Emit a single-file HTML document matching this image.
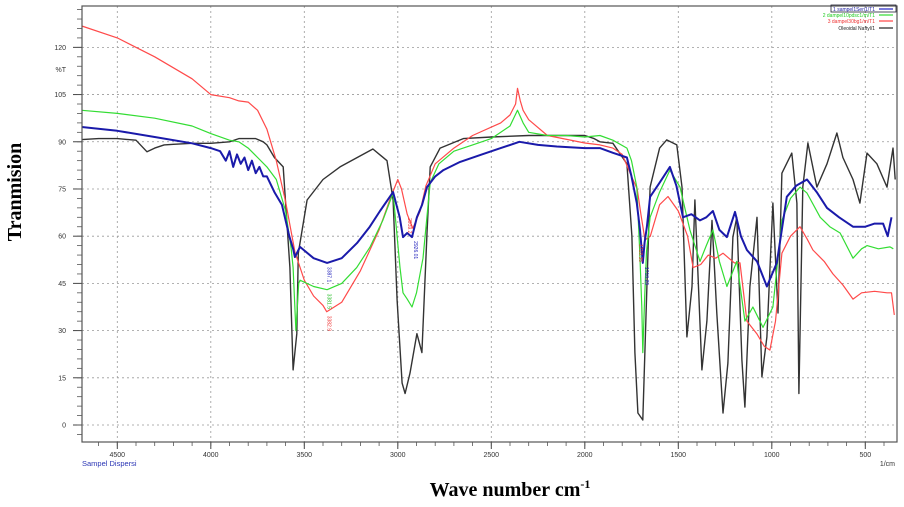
<!DOCTYPE html>
<html><head><meta charset="utf-8">
<style>
html,body{margin:0;padding:0;background:#fff;}
svg{display:block;}
text{font-family:"Liberation Sans",sans-serif;}
</style></head>
<body>
<svg id="chart" width="904" height="507" viewBox="0 0 904 507" xmlns="http://www.w3.org/2000/svg">
  <g id="grid"></g>
  <g id="series"></g>
  <rect x="82" y="6" width="815" height="436" fill="none" stroke="#555" stroke-width="1.2"/>
  <g id="axes"></g>
  <text x="66" y="72" font-size="7" text-anchor="end" fill="#333">%T</text>
  <text x="82" y="466" font-size="7.5" fill="#2a35b5">Sampel Dispersi</text>
  <text x="895" y="466" font-size="7" text-anchor="end" fill="#333">1/cm</text>
  <text transform="translate(21,192) rotate(-90)" font-weight="bold" font-size="20" text-anchor="middle" style="font-family:'Liberation Serif',serif">Tranmision</text>
  <text x="510" y="496" font-weight="bold" font-size="20" text-anchor="middle" style="font-family:'Liberation Serif',serif">Wave number cm<tspan font-size="12" dy="-8">-1</tspan></text>
  <g>
    <rect x="831" y="5" width="65" height="7" fill="none" stroke="#223" stroke-width="0.8"/>
    <text x="875" y="11" font-size="5" text-anchor="end" fill="#1a1aa0">1 sampel1Seri1/T1</text>
    <line x1="879" y1="9" x2="893" y2="9" stroke="#2020c0" stroke-width="1.2"/>
    <text x="875" y="17" font-size="5" text-anchor="end" fill="#2c2">2 dampel10pdsc1/m/T1</text>
    <line x1="879" y1="15" x2="893" y2="15" stroke="#3d3" stroke-width="1.2"/>
    <text x="875" y="23" font-size="5" text-anchor="end" fill="#e33">3 dampel30bg1/m/T1</text>
    <line x1="879" y1="21" x2="893" y2="21" stroke="#f44" stroke-width="1.2"/>
    <text x="875" y="30" font-size="5" text-anchor="end" fill="#222">Oleoidal Naftyl/1</text>
    <line x1="879" y1="28" x2="893" y2="28" stroke="#222" stroke-width="1.2"/>
  </g>
  <g id="peaks"></g>
</svg>
<script>
// Axis data
const xTickLabels = [4500, 4000, 3500, 3000, 2500, 2000, 1500, 1000, 500];
const yTickLabels = [0, 15, 30, 45, 60, 75, 90, 105, 120];

// Series data: wavenumber (1/cm) and %T
const blueWn = [4690,4500,4300,4100,4000,3950,3920,3900,3880,3860,3840,3820,3800,3780,3760,3740,3720,3700,3660,3620,3580,3560,3550,3523,3450,3378,3300,3218,3150,3095,3025,2990,2972,2950,2924,2898,2870,2844,2800,2756,2667,2550,2450,2350,2250,2150,2000,1919,1850,1775,1750,1722,1705,1690,1680,1668,1651,1600,1545,1510,1475,1430,1384,1350,1315,1280,1240,1197,1165,1133,1079,1026,973,920,870,812,760,705,640,566,500,450,405,380,360];
const blueT  = [94.7,93.5,91.5,89.5,88.0,87,84,87,82,86,83,85,81,84,80,82,79,79,74,70,60,56,53.4,56.6,53,51.5,53,57.8,63,68,74,66,59.7,61,59.7,66,70,75.6,79,81,83.6,86,88,90,89,88.5,88,88,86.5,85,79,70.5,62,51.5,58,63,72.5,77,82,76,66,67,65,66,68,62,59.7,67.7,60,55.6,52,44,51.5,72.5,76,78,74,69,66,63,63,64,64,60,66];
const greenWn = [4690,4500,4300,4100,4000,3900,3850,3800,3750,3700,3650,3600,3570,3560,3545,3530,3523,3450,3378,3300,3220,3148,3080,3025,2988,2972,2950,2924,2900,2865,2827,2780,2700,2600,2500,2400,2360,2330,2300,2200,2100,2000,1919,1850,1775,1750,1722,1706,1695,1690,1680,1670,1651,1600,1545,1491,1438,1384,1350,1315,1280,1240,1187,1160,1144,1101,1047,994,946,900,849,812,741,690,635,566,520,491,430,368,350];
const greenT  = [100,99,97.5,95,92.6,90.5,90,88,85,82,78,68,56,50,30,45,46,44,43,45,50,56.6,65,73.7,50,42,40,37.5,42,53,77,83,87,89,91,95,100,96,93,92,92,91.5,92,90.5,88,84,75.6,54.6,37.5,23,40,55,66,74,81,75.6,62,52,57,62,52,44,52,40,33,37.5,31,37.5,65,72,75.6,73.7,66,63,61,53,56,57,56,56.6,56];
const redWn = [4690,4500,4300,4100,4000,3900,3850,3800,3750,3700,3650,3600,3550,3500,3450,3400,3380,3300,3200,3100,3040,3000,2980,2950,2920,2880,2850,2800,2700,2600,2450,2400,2370,2360,2345,2330,2300,2200,2000,1919,1850,1800,1750,1720,1700,1678,1650,1600,1555,1500,1450,1421,1380,1340,1300,1261,1200,1170,1133,1080,1040,1010,980,946,900,849,810,780,720,673,620,566,520,450,384,360,345];
const redT  = [126.8,123,117,110,105,104,103,102.6,100,94,84,71,55,46,41,38,36,39,49,62,72,78,75,67,62.5,68,76,83,88,92,96,98.5,102,107,103,100,97,92,89.6,89,88,86,79,75,67,58.8,60,70,72.6,68,60,50,51,54,53,54.6,51.5,51.5,33,29,25,23.8,33,54.6,60,63,59,55.6,52,48,44.5,40,42,42.5,42,42,35];
const blackWn = [4690,4600,4500,4400,4341,4300,4250,4200,4100,4000,3900,3850,3800,3760,3720,3700,3660,3613,3577,3560,3540,3532,3485,3400,3309,3186,3133,3058,3025,3004,2977,2961,2935,2898,2871,2844,2827,2774,2650,2500,2300,2100,2000,1950,1919,1850,1775,1748,1732,1716,1690,1668,1651,1600,1562,1508,1480,1454,1427,1411,1374,1347,1320,1294,1261,1235,1208,1187,1160,1144,1117,1079,1053,1026,994,967,946,893,866,855,834,807,759,705,652,620,566,529,491,438,384,352,340];
const blackT  = [90.7,91,91,90.5,86.8,88,89,89.2,89.5,89.5,90,91,91,91,90,89,85,82,50,17.5,29,54.6,71.5,78,82,86,87.7,84,71.5,39.7,13.3,10,16.5,29,23,61,82,88,91,91.5,92,92,92,91,90,89.5,83,60,23,3.8,1.6,44,75.6,88,90.6,89,75.6,28,44,71.5,17.5,33,65,35.6,3.8,19.7,59.7,66,20.7,5.7,44,66,15.3,28,70.5,35.6,80,86.4,70.5,10,75.6,89.6,75.6,83,92.8,85,78,70.5,86.4,83,75.6,88,78];

const X0 = 117.3, XS = 0.187, Y0 = 425, YS = 3.147;
function xScale(v){ return X0 + (4500 - v) * XS; }
function yScale(v){ return Y0 - v * YS; }
const NS = "http://www.w3.org/2000/svg";
function mk(tag, attrs, parent){
  const e = document.createElementNS(NS, tag);
  for (const k in attrs) e.setAttribute(k, attrs[k]);
  parent.appendChild(e); return e;
}
const grid = document.getElementById('grid');
const axes = document.getElementById('axes');
const series = document.getElementById('series');

yTickLabels.forEach(v => {
  const y = yScale(v);
  const g = mk('line', {x1:82, x2:897, y1:y, y2:y, stroke:'#999', 'stroke-width':0.8, 'stroke-dasharray':'2,3'}, grid);
  
  
  const t = mk('line', {x1:73, x2:82, y1:y, y2:y, stroke:'#444', 'stroke-width':1}, axes);
  
  
  const l = mk('text', {x:66, y:y+2.5, 'font-size':7, 'text-anchor':'end', fill:'#333'}, axes);
  l.textContent = v;
  
  
});
for (let v = -6; v <= 135; v += 3) {
  const y = yScale(v);
  if (y < 7 || y > 441) continue;
  const m = mk('line', {x1:77, x2:82, y1:y, y2:y, stroke:'#555', 'stroke-width':0.8}, axes);
  
  
}
xTickLabels.forEach(v => {
  const x = xScale(v);
  const g = mk('line', {x1:x, x2:x, y1:6, y2:442, stroke:'#999', 'stroke-width':0.8, 'stroke-dasharray':'2,3'}, grid);
  
  
  const t = mk('line', {x1:x, x2:x, y1:442, y2:449, stroke:'#444', 'stroke-width':1}, axes);
  
  
  const l = mk('text', {x:x, y:457, 'font-size':7, 'text-anchor':'middle', fill:'#333'}, axes);
  l.textContent = v;
  
  
});
for (let v = 4600; v >= 400; v -= 100) {
  const x = xScale(v);
  const m = mk('line', {x1:x, x2:x, y1:442, y2:446, stroke:'#555', 'stroke-width':0.8}, axes);
  
  
}

function drawSeries(wn, tv, color, width, name){
  let d = '';
  for (let i = 0; i < wn.length; i++) {
    d += (i ? 'L' : 'M') + xScale(wn[i]).toFixed(1) + ',' + yScale(tv[i]).toFixed(1);
  }
  const p = mk('path', {d:d, fill:'none', stroke:color, 'stroke-width':width, 'stroke-linejoin':'round'}, series);
  
  
}
drawSeries(blackWn, blackT, '#333', 1.4, 'series-black');
drawSeries(redWn, redT, '#ff4a4a', 1.2, 'series-red');
drawSeries(greenWn, greenT, '#33dd33', 1.2, 'series-green');
drawSeries(blueWn, blueT, '#1a1aaa', 2, 'series-blue');

const peakWn = [3387, 3387, 3387, 2924, 2955, 1720, 1690];
const peakT  = [51.5, 43, 36, 59.7, 67, 58.8, 51.5];
const peakTxt = ['3387.1', '3381.5', '3382.9', '2926.01', '2939.2', '1718.35', '1718.29'];
const peakCol = ['#2222bb', '#22bb22', '#ee3333', '#2222bb', '#ee3333', '#ee3333', '#2222bb'];
const peaks = document.getElementById('peaks');
peakWn.forEach((v, i) => {
  const x = xScale(v), y = yScale(peakT[i]);
  const t = mk('text', {transform:`translate(${x+2},${y+4}) rotate(90)`, 'font-size':5, fill:peakCol[i]}, peaks);
  t.textContent = peakTxt[i];
  
  
});
</script>
</body></html>
